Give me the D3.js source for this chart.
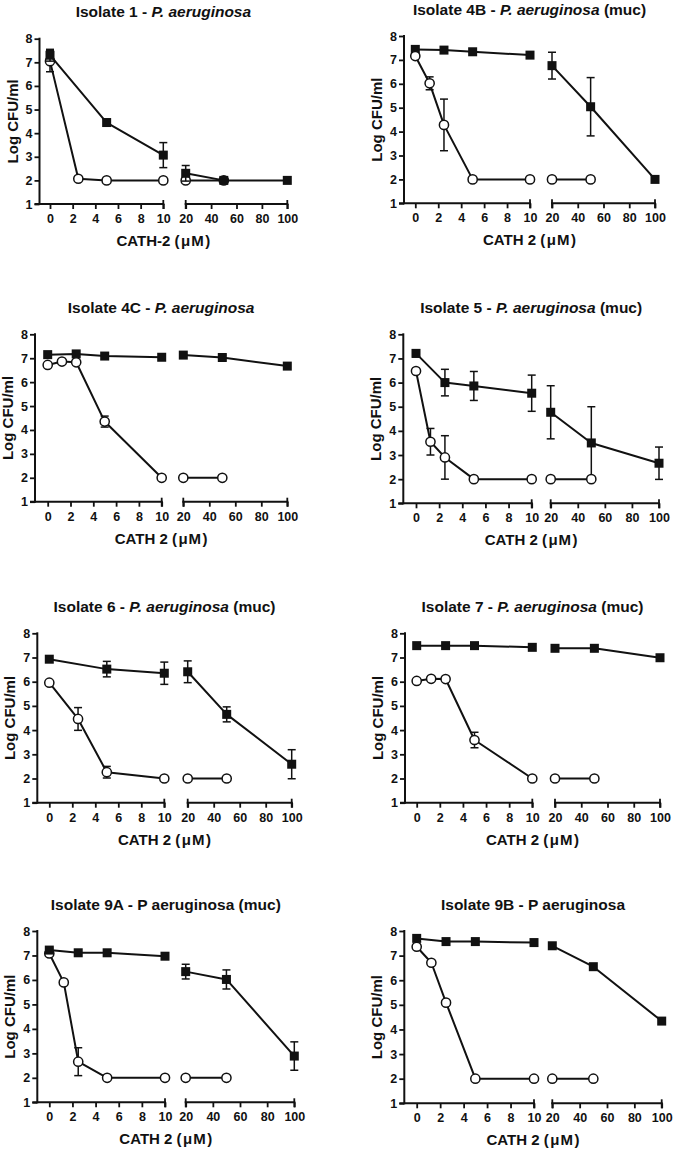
<!DOCTYPE html>
<html>
<head>
<meta charset="utf-8">
<script src="https://cdn.jsdelivr.net/npm/d3@7"></script>
<style>
  html, body { margin: 0; padding: 0; background: #fff; }
  svg { display: block; }
  text { font-family: "Liberation Sans", Arial, Helvetica, sans-serif; font-weight: bold; fill: #111; }
</style>
</head>
<body>
<svg id="chart" width="675" height="1150"></svg>
<script>
// ---------------- data ----------------
const conc = [0, 1.25, 2.5, 5, 10, 20, 50, 100];
const titlePrefix = ["Isolate 1 - ", "Isolate 4B - ", "Isolate 4C - ", "Isolate 5 - ",
                     "Isolate 6 - ", "Isolate 7 - ", "Isolate 9A - ", "Isolate 9B - "];
const titleItalic = ["P. aeruginosa", "P. aeruginosa", "P. aeruginosa", "P. aeruginosa",
                     "P. aeruginosa", "P. aeruginosa", "", ""];
const titleSuffix = ["", " (muc)", "", " (muc)", " (muc)", " (muc)",
                     "P aeruginosa (muc)", "P aeruginosa"];
const xTitles = ["CATH-2", "CATH 2", "CATH 2", "CATH 2", "CATH 2", "CATH 2", "CATH 2", "CATH 2"];
const yTicks = [1, 2, 3, 4, 5, 6, 7, 8];
const xTicksLeft = [0, 2, 4, 6, 8, 10];
const xTicksRight = [20, 40, 60, 80, 100];

// filled squares (mean, SD)
const squareMeans = [
  [7.30, null, null, 4.45, 3.07, 2.30, 2.00, 2.00],
  [7.44, null, 7.41, 7.34, 7.20, 6.76, 5.04, 2.00],
  [7.15, null, 7.18, 7.09, 7.04, 7.13, 7.03, 6.67],
  [7.21, null, 6.00, 5.86, 5.56, 4.77, 3.50, 2.66],
  [6.93, null, null, 6.52, 6.35, 6.41, 4.65, 2.59],
  [7.49, null, 7.49, 7.49, 7.42, 7.38, 7.38, 6.99],
  [7.22, null, 7.11, 7.11, 6.97, 6.34, 6.02, 2.89],
  [7.70, null, 7.57, 7.57, 7.53, 7.40, 6.55, 4.34]
];
const squareErr = [
  [0.25, 0, 0, 0, 0.53, 0.33, 0, 0],
  [0, 0, 0, 0, 0, 0.56, 1.22, 0],
  [0, 0, 0, 0, 0, 0, 0.10, 0],
  [0.15, 0, 0.55, 0.60, 0.75, 1.10, 1.50, 0.67],
  [0, 0, 0, 0.32, 0.46, 0.45, 0.31, 0.60],
  [0, 0, 0, 0, 0, 0, 0, 0],
  [0.08, 0, 0, 0, 0, 0.30, 0.39, 0.58],
  [0, 0, 0, 0, 0, 0, 0, 0]
];
// open circles (mean, SD)
const circleMeans = [
  [7.05, null, 2.07, 2.00, 2.00, 2.00, 2.00, null],
  [7.16, 6.02, 4.28, 2.00, 2.00, 2.00, 2.00, null],
  [6.72, 6.86, 6.83, 4.35, 2.00, 2.00, 2.00, null],
  [6.48, 3.55, 2.90, 2.00, 2.00, 2.00, 2.00, null],
  [5.96, null, 4.46, 2.26, 2.00, 2.00, 2.00, null],
  [6.03, 6.12, 6.11, 3.59, 2.00, 2.00, 2.00, null],
  [7.08, 5.90, 2.66, 2.00, 2.00, 2.00, 2.00, null],
  [7.36, 6.71, 5.09, 2.00, 2.00, 2.00, 2.00, null]
];
const circleErr = [
  [0.45, 0, 0, 0, 0, 0, 0, 0],
  [0, 0.27, 1.08, 0, 0, 0, 0, 0],
  [0, 0, 0, 0.23, 0, 0, 0, 0],
  [0, 0.55, 0.90, 0, 0, 0, 0, 0],
  [0, 0, 0.47, 0.24, 0, 0, 0, 0],
  [0, 0, 0, 0.32, 0, 0, 0, 0],
  [0, 0, 0.57, 0, 0, 0, 0, 0],
  [0, 0, 0, 0, 0, 0, 0, 0]
];

// ---------------- layout (pixel geometry per panel) ----------------
// [yAxisX, x(0), x(10), x(20), x(100), y(8), y(1), squaresOnTop]
const layout = [
  [39.5, 50.0, 163.3, 185.7, 287.3, 38.7, 204.0, true],
  [404.0, 415.3, 530.0, 552.0, 655.0, 36.0, 203.3, false],
  [35.0, 47.7, 161.7, 183.3, 287.3, 334.3, 501.7, false],
  [403.3, 416.0, 531.7, 550.7, 659.0, 334.3, 503.3, false],
  [37.3, 49.3, 164.3, 187.7, 291.7, 633.3, 802.7, false],
  [405.0, 416.7, 532.3, 555.0, 660.0, 633.3, 802.7, false],
  [37.3, 49.3, 165.0, 185.7, 294.3, 931.0, 1102.3, true],
  [404.3, 416.7, 534.0, 552.3, 661.7, 931.0, 1103.3, false]
];

const svg = d3.select("#chart");
svg.append("rect").attr("width", 675).attr("height", 1150).attr("fill", "#fff");

const AX = 2, LINE = 2, ERR = 1.5, CAP = 4, SQ = 9, CR = 4.6;

layout.forEach((L, i) => {
  const [axX, x0, x10, x20, x100, y8, y1, sqTop] = L;
  const xl = d3.scaleLinear().domain([0, 10]).range([x0, x10]);
  const xr = d3.scaleLinear().domain([20, 100]).range([x20, x100]);
  const y = d3.scaleLinear().domain([1, 8]).range([y1, y8]);
  const xpos = v => v <= 10 ? xl(v) : xr(v);
  const g = svg.append("g");

  // title
  const t = g.append("text")
    .attr("x", (axX + x100) / 2).attr("y", y8 - 21.5)
    .attr("text-anchor", "middle").attr("font-size", 15.5);
  t.append("tspan").text(titlePrefix[i]);
  if (titleItalic[i]) t.append("tspan").attr("font-style", "italic").text(titleItalic[i]);
  if (titleSuffix[i]) t.append("tspan").text(titleSuffix[i]);

  // y axis
  const ya = g.append("g").attr("transform", `translate(${axX},0)`)
    .call(d3.axisLeft(y).tickValues(yTicks).tickFormat(d3.format("d")).tickSize(5).tickPadding(2));
  ya.select(".domain").remove();
  ya.selectAll(".tick line").attr("stroke", "#111").attr("stroke-width", 1.8);
  ya.selectAll(".tick text").attr("font-size", 12.5).attr("font-family", null).attr("fill", "#111");
  g.append("line").attr("x1", axX).attr("x2", axX).attr("y1", y(8) - 1).attr("y2", y1 + 1)
    .attr("stroke", "#111").attr("stroke-width", AX);

  // x axes (broken)
  const xaL = g.append("g").attr("transform", `translate(0,${y1})`)
    .call(d3.axisBottom(xl).tickValues(xTicksLeft).tickFormat(d3.format("d")).tickSize(5).tickPadding(5));
  const xaR = g.append("g").attr("transform", `translate(0,${y1})`)
    .call(d3.axisBottom(xr).tickValues(xTicksRight).tickFormat(d3.format("d")).tickSize(5).tickPadding(5));
  [xaL, xaR].forEach(a => {
    a.select(".domain").remove();
    a.selectAll(".tick line").attr("stroke", "#111").attr("stroke-width", 1.8);
    a.selectAll(".tick text").attr("font-size", 12.5).attr("font-family", null).attr("fill", "#111");
  });
  g.append("line").attr("x1", axX - 5).attr("x2", xl(10) + 1).attr("y1", y1).attr("y2", y1)
    .attr("stroke", "#111").attr("stroke-width", AX);
  g.append("line").attr("x1", xr(20) - 1).attr("x2", xr(100) + 1).attr("y1", y1).attr("y2", y1)
    .attr("stroke", "#111").attr("stroke-width", AX);
  [xl(10), xr(20), xr(100)].forEach(px => {
    g.append("line").attr("x1", px).attr("x2", px).attr("y1", y1 - 4).attr("y2", y1 + 5)
      .attr("stroke", "#111").attr("stroke-width", 1.8);
  });

  // axis titles
  const xt = g.append("text").attr("x", (axX + x100) / 2).attr("y", y1 + 42)
    .attr("text-anchor", "middle").attr("font-size", 15);
  xt.append("tspan").text(xTitles[i] + " (");
  xt.append("tspan").attr("dx", 1.5).text("\u03BC");
  xt.append("tspan").attr("dx", 1).text("M");
  xt.append("tspan").attr("dx", 1.5).text(")");
  g.append("text")
    .attr("transform", `translate(${axX - 22},${(y8 + y1) / 2}) rotate(-90)`)
    .attr("text-anchor", "middle").attr("font-size", 15).text("Log CFU/ml");

  // series
  function drawSeries(means, errs, kind) {
    const pts = conc.map((c, k) => ({ c, v: means[k], e: errs[k] })).filter(d => d.v != null);
    const line = d3.line().x(d => xpos(d.c)).y(d => y(d.v));
    const sg = g.append("g");
    [pts.filter(d => d.c <= 10), pts.filter(d => d.c >= 20)].forEach(seg => {
      if (seg.length > 1) sg.append("path").attr("d", line(seg)).attr("fill", "none")
        .attr("stroke", "#111").attr("stroke-width", LINE).attr("stroke-linejoin", "round");
    });
    pts.filter(d => d.e > 0).forEach(d => {
      const px = xpos(d.c), yt = y(d.v + d.e), yb = y(d.v - d.e);
      sg.append("line").attr("x1", px).attr("x2", px).attr("y1", yt).attr("y2", yb)
        .attr("stroke", "#111").attr("stroke-width", ERR);
      [yt, yb].forEach(yy => sg.append("line").attr("x1", px - CAP).attr("x2", px + CAP)
        .attr("y1", yy).attr("y2", yy).attr("stroke", "#111").attr("stroke-width", ERR));
    });
    if (kind === "square") {
      sg.selectAll("rect.pt").data(pts).enter().append("rect")
        .attr("x", d => xpos(d.c) - SQ / 2).attr("y", d => y(d.v) - SQ / 2)
        .attr("width", SQ).attr("height", SQ).attr("fill", "#111");
    } else {
      sg.selectAll("circle.pt").data(pts).enter().append("circle")
        .attr("cx", d => xpos(d.c)).attr("cy", d => y(d.v)).attr("r", CR)
        .attr("fill", "#fff").attr("stroke", "#111").attr("stroke-width", 1.5);
    }
  }
  if (sqTop) {
    drawSeries(circleMeans[i], circleErr[i], "circle");
    drawSeries(squareMeans[i], squareErr[i], "square");
  } else {
    drawSeries(squareMeans[i], squareErr[i], "square");
    drawSeries(circleMeans[i], circleErr[i], "circle");
  }
});
</script>
</body>
</html>
